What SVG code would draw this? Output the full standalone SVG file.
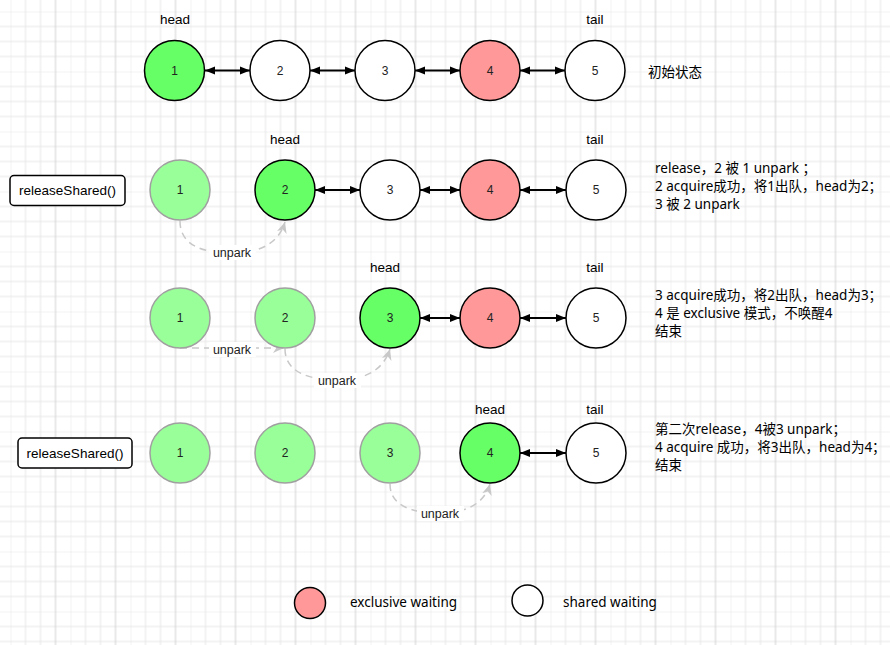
<svg xmlns="http://www.w3.org/2000/svg" width="890" height="645" viewBox="0 0 890 645">
<defs>
<pattern id="grid" x="10.5" y="11.5" width="60" height="60" patternUnits="userSpaceOnUse">
<path d="M15,0V60M30,0V60M0,15H60M0,30H60M0,45H60" stroke="#e6e6e6" stroke-width="1" fill="none"/>
<path d="M0,0V60M0,0H60" stroke="#e6e6e6" stroke-width="1" fill="none"/>
<path d="M45,0V60" stroke="#d2d2d2" stroke-width="1" fill="none"/>
</pattern>
<marker id="ab" viewBox="0 0 10 10" refX="10" refY="5" markerWidth="10" markerHeight="10" markerUnits="userSpaceOnUse" orient="auto-start-reverse">
<path d="M0,1 L10,5 L0,9 Z" fill="#000"/>
</marker>
<marker id="ag" viewBox="0 0 10 10" refX="10" refY="5" markerWidth="11" markerHeight="11" markerUnits="userSpaceOnUse" orient="auto">
<path d="M0,0.5 L10,5 L0,9.5 L3,5 Z" fill="#c8c8c8"/>
</marker>
<style>
.n{stroke:#000;stroke-width:1.5}
.w{fill:#fff}
.g{fill:#66ff66}
.r{fill:#ff9999}
.f{fill:#99ff99;stroke:#a0a0a0;stroke-width:1.5}
.t{font-family:"Liberation Sans",Arial,sans-serif;font-size:12px;fill:#222;text-anchor:middle;dominant-baseline:central}
.lbl{font-family:"Liberation Sans",Arial,sans-serif;font-size:13.5px;fill:#000;text-anchor:middle}
.cn{font-family:"Noto Sans","Noto Sans CJK SC",sans-serif;font-size:13.5px;fill:#000}
.lg{font-family:"Noto Sans","Noto Sans CJK SC",sans-serif;font-size:13.5px;fill:#000}
.lk{stroke:#000;stroke-width:2;fill:none;marker-start:url(#ab);marker-end:url(#ab)}
.up{stroke:#c8c8c8;stroke-width:1.5;fill:none;stroke-dasharray:7 5;marker-end:url(#ag)}
.ul{font-family:"Liberation Sans",Arial,sans-serif;font-size:12.5px;fill:#222;text-anchor:middle}
.box{fill:#fff;stroke:#000;stroke-width:1.5}
</style>
</defs>
<rect width="890" height="645" fill="#fff"/>
<rect width="890" height="645" fill="url(#grid)"/>

<g id="connectors">
<path class="lk" d="M205,70.5H250"/>
<path class="lk" d="M310,70.5H355"/>
<path class="lk" d="M415,70.5H460"/>
<path class="lk" d="M520,70.5H565"/>
<path class="lk" d="M315,190H360"/>
<path class="lk" d="M420,190H460"/>
<path class="lk" d="M520,190H566"/>
<path class="lk" d="M420,318H460"/>
<path class="lk" d="M520,318H566"/>
<path class="lk" d="M520,453H566"/>
<path class="up" d="M180,221 C180,244 200,253 232,253 C262,253 279,242 285,222"/>
<path class="up" d="M180,348 L284,348"/>
<path class="up" d="M285,349 C285,370 305,380 338,380 C368,380 384,368 390,349"/>
<path class="up" d="M390,484 C390,505 410,513 440,513 C470,513 485,501 490,484"/>
</g>

<g id="unpark-labels">
<rect x="209" y="245" width="47" height="15" fill="#fff"/>
<text class="ul" x="232" y="257">unpark</text>
<rect x="209" y="342" width="47" height="15" fill="#fff"/>
<text class="ul" x="232" y="354">unpark</text>
<rect x="314" y="373" width="47" height="15" fill="#fff"/>
<text class="ul" x="337" y="385">unpark</text>
<rect x="417" y="506" width="47" height="15" fill="#fff"/>
<text class="ul" x="440" y="518">unpark</text>
</g>

<g id="row1">
<text class="lbl" x="175" y="24">head</text>
<text class="lbl" x="595" y="24">tail</text>
<g id="r1n1"><circle class="n g" cx="174.5" cy="70.5" r="30"/><text class="t" x="174.5" y="70.5">1</text></g>
<g id="r1n2"><circle class="n w" cx="280" cy="70.5" r="30"/><text class="t" x="280" y="70.5">2</text></g>
<g id="r1n3"><circle class="n w" cx="385" cy="70.5" r="30"/><text class="t" x="385" y="70.5">3</text></g>
<g id="r1n4"><circle class="n r" cx="490" cy="70.5" r="30"/><text class="t" x="490" y="70.5">4</text></g>
<g id="r1n5"><circle class="n w" cx="595" cy="70.5" r="30"/><text class="t" x="595" y="70.5">5</text></g>
<text class="cn" x="648" y="77">初始状态</text>
</g>

<g id="row2">
<g id="release1"><rect class="box" x="10" y="175.5" width="115" height="30" rx="4"/><text class="lbl" x="67.5" y="195">releaseShared()</text></g>
<text class="lbl" x="285" y="144">head</text>
<text class="lbl" x="595" y="144">tail</text>
<g id="r2n1"><circle class="f" cx="180" cy="190" r="30"/><text class="t" x="180" y="190">1</text></g>
<g id="r2n2"><circle class="n g" cx="285" cy="190" r="30"/><text class="t" x="285" y="190">2</text></g>
<g id="r2n3"><circle class="n w" cx="390" cy="190" r="30"/><text class="t" x="390" y="190">3</text></g>
<g id="r2n4"><circle class="n r" cx="490" cy="190" r="30"/><text class="t" x="490" y="190">4</text></g>
<g id="r2n5"><circle class="n w" cx="596" cy="190" r="30"/><text class="t" x="596" y="190">5</text></g>
<text class="cn" x="655" y="173">release，2 被 1 unpark ；</text>
<text class="cn" x="655" y="191">2 acquire成功，将1出队，head为2；</text>
<text class="cn" x="655" y="209">3 被 2 unpark</text>
</g>

<g id="row3">
<text class="lbl" x="385" y="272">head</text>
<text class="lbl" x="595" y="272">tail</text>
<g id="r3n1"><circle class="f" cx="180" cy="318" r="30"/><text class="t" x="180" y="318">1</text></g>
<g id="r3n2"><circle class="f" cx="285" cy="318" r="30"/><text class="t" x="285" y="318">2</text></g>
<g id="r3n3"><circle class="n g" cx="390" cy="318" r="30"/><text class="t" x="390" y="318">3</text></g>
<g id="r3n4"><circle class="n r" cx="490" cy="318" r="30"/><text class="t" x="490" y="318">4</text></g>
<g id="r3n5"><circle class="n w" cx="596" cy="318" r="30"/><text class="t" x="596" y="318">5</text></g>
<text class="cn" x="655" y="300">3 acquire成功，将2出队，head为3；</text>
<text class="cn" x="655" y="318">4 是 exclusive 模式，不唤醒4</text>
<text class="cn" x="655" y="336">结束</text>
</g>

<g id="row4">
<g id="release2"><rect class="box" x="18" y="438" width="114" height="30" rx="4"/><text class="lbl" x="75" y="457.5">releaseShared()</text></g>
<text class="lbl" x="490" y="414">head</text>
<text class="lbl" x="595" y="414">tail</text>
<g id="r4n1"><circle class="f" cx="180" cy="453" r="30"/><text class="t" x="180" y="453">1</text></g>
<g id="r4n2"><circle class="f" cx="285" cy="453" r="30"/><text class="t" x="285" y="453">2</text></g>
<g id="r4n3"><circle class="f" cx="390" cy="453" r="30"/><text class="t" x="390" y="453">3</text></g>
<g id="r4n4"><circle class="n g" cx="490" cy="453" r="30"/><text class="t" x="490" y="453">4</text></g>
<g id="r4n5"><circle class="n w" cx="596" cy="453" r="30"/><text class="t" x="596" y="453">5</text></g>
<text class="cn" x="655" y="434">第二次release，4被3 unpark；</text>
<text class="cn" x="655" y="452">4 acquire 成功，将3出队，head为4；</text>
<text class="cn" x="655" y="470">结束</text>
</g>

<g id="legend">
<g id="legend-excl"><circle class="n r" cx="310" cy="603" r="15.5"/><text class="lg" x="350" y="607">exclusive waiting</text></g>
<g id="legend-shared"><circle class="n w" cx="527.5" cy="600.5" r="15.5"/><text class="lg" x="563" y="607">shared waiting</text></g>
</g>
</svg>
